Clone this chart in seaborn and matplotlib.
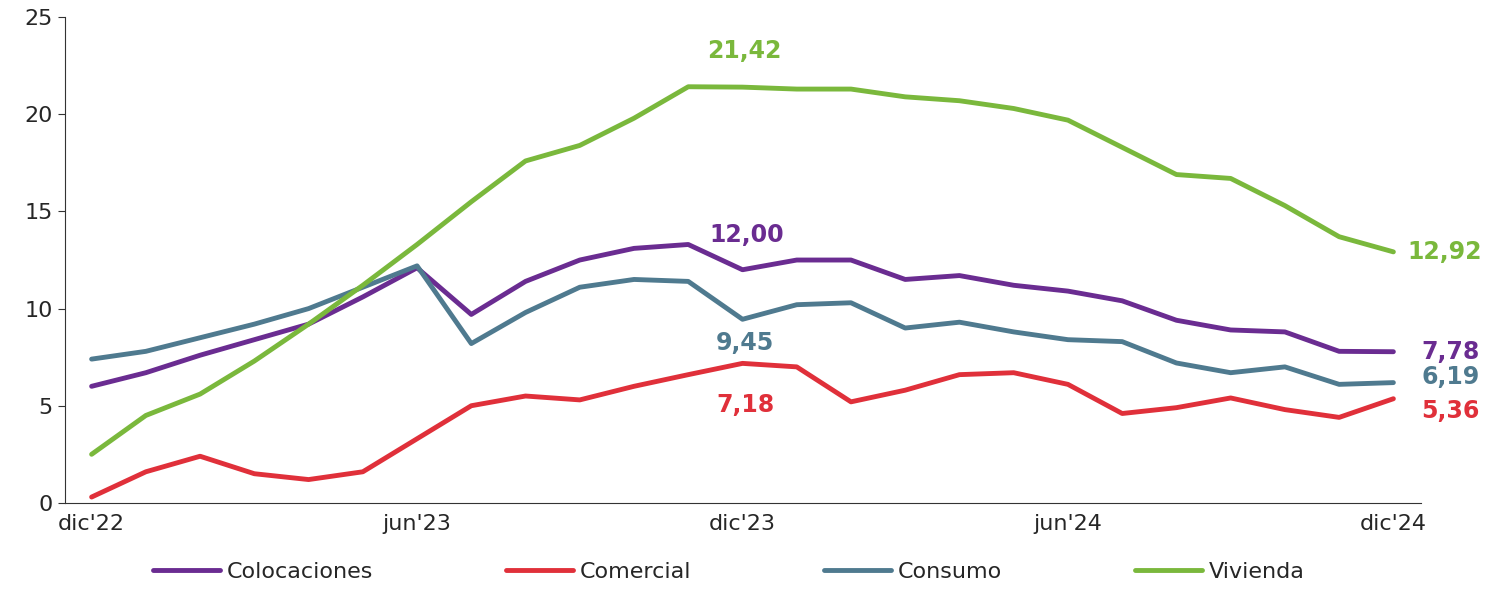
import numpy as np
import pandas as pd
import matplotlib
matplotlib.use('Agg')
import matplotlib.pyplot as plt
import seaborn as sns

months = ["dic'22", "ene'23", "feb'23", "mar'23", "abr'23", "may'23", "jun'23", "jul'23", "ago'23",
          "sep'23", "oct'23", "nov'23", "dic'23", "ene'24", "feb'24", "mar'24", "abr'24", "may'24",
          "jun'24", "jul'24", "ago'24", "sep'24", "oct'24", "nov'24", "dic'24"]
colocaciones = [6.0, 6.7, 7.6, 8.4, 9.2, 10.6, 12.1, 9.7, 11.4, 12.5, 13.1, 13.3, 12.0,
                12.5, 12.5, 11.5, 11.7, 11.2, 10.9, 10.4, 9.4, 8.9, 8.8, 7.8, 7.78]
comercial = [0.3, 1.6, 2.4, 1.5, 1.2, 1.6, 3.3, 5.0, 5.5, 5.3, 6.0, 6.6, 7.18,
             7.0, 5.2, 5.8, 6.6, 6.7, 6.1, 4.6, 4.9, 5.4, 4.8, 4.4, 5.36]
consumo = [7.4, 7.8, 8.5, 9.2, 10.0, 11.1, 12.2, 8.2, 9.8, 11.1, 11.5, 11.4, 9.45,
           10.2, 10.3, 9.0, 9.3, 8.8, 8.4, 8.3, 7.2, 6.7, 7.0, 6.1, 6.19]
vivienda = [2.5, 4.5, 5.6, 7.3, 9.2, 11.2, 13.3, 15.5, 17.6, 18.4, 19.8, 21.42, 21.4,
            21.3, 21.3, 20.9, 20.7, 20.3, 19.7, 18.3, 16.9, 16.7, 15.3, 13.7, 12.92]

series = {"Colocaciones": colocaciones, "Comercial": comercial,
          "Consumo": consumo, "Vivienda": vivienda}
colors = {"Colocaciones": "#6a2c91", "Comercial": "#e0303a",
          "Consumo": "#4f7a8f", "Vivienda": "#7ab83c"}

df = pd.concat([pd.DataFrame({"idx": range(len(months)), "valor": v, "serie": k})
                for k, v in series.items()])

sns.set_style("white")
plt.rcParams['font.family'] = ['Verdana', 'DejaVu Sans']
fig = plt.figure(figsize=(15, 6.14), dpi=100)
ax = fig.add_axes([0.043, 0.181, 0.904, 0.791])
sns.lineplot(data=df, x="idx", y="valor", hue="serie", palette=colors, linewidth=3.5, ax=ax)

ax.set_xlim(-0.5, 24.5)
ax.set_ylim(0, 25)
ax.set_yticks(range(0, 26, 5))
ax.set_xticks([0, 6, 12, 18, 24])
ax.set_xticklabels([months[i] for i in [0, 6, 12, 18, 24]])
ax.set_xticks([5.5, 11.5, 17.5, 23.5], minor=True)
ax.tick_params(axis='x', which='major', length=0, labelsize=16, pad=8)
ax.tick_params(axis='x', which='minor', length=6, width=1.2, direction='out', color='#333333')
ax.tick_params(axis='y', length=5, labelsize=16, left=True, color='#333333')
ax.set_xlabel("")
ax.set_ylabel("")
for s in ['top', 'right']:
    ax.spines[s].set_visible(False)
for s in ['left', 'bottom']:
    ax.spines[s].set_color('#333333')

def lab(x, y, txt, c, dx=0, dy=0, ha='center'):
    ax.annotate(txt, (x, y), xytext=(dx, dy), textcoords='offset points', ha=ha, va='center',
                color=c, fontsize=17, fontweight='bold')

lab(11, vivienda[11], "21,42", colors["Vivienda"], dx=40, dy=26)
lab(12, colocaciones[12], "12,00", colors["Colocaciones"], dx=3, dy=25)
lab(12, consumo[12], "9,45", colors["Consumo"], dx=2, dy=-17)
lab(12, comercial[12], "7,18", colors["Comercial"], dx=2, dy=-30)
lab(24, vivienda[24], "12,92", colors["Vivienda"], dx=10, dy=0, ha='left')
lab(24, colocaciones[24], "7,78", colors["Colocaciones"], dx=20, dy=0, ha='left')
lab(24, consumo[24], "6,19", colors["Consumo"], dx=20, dy=4, ha='left')
lab(24, comercial[24], "5,36", colors["Comercial"], dx=20, dy=-9, ha='left')

ax.legend(loc='upper center', bbox_to_anchor=(0.49, -0.08), ncol=4, frameon=False,
          fontsize=16, handlelength=3, columnspacing=6, handletextpad=0.3)
fig.savefig("out.png", dpi=100)
